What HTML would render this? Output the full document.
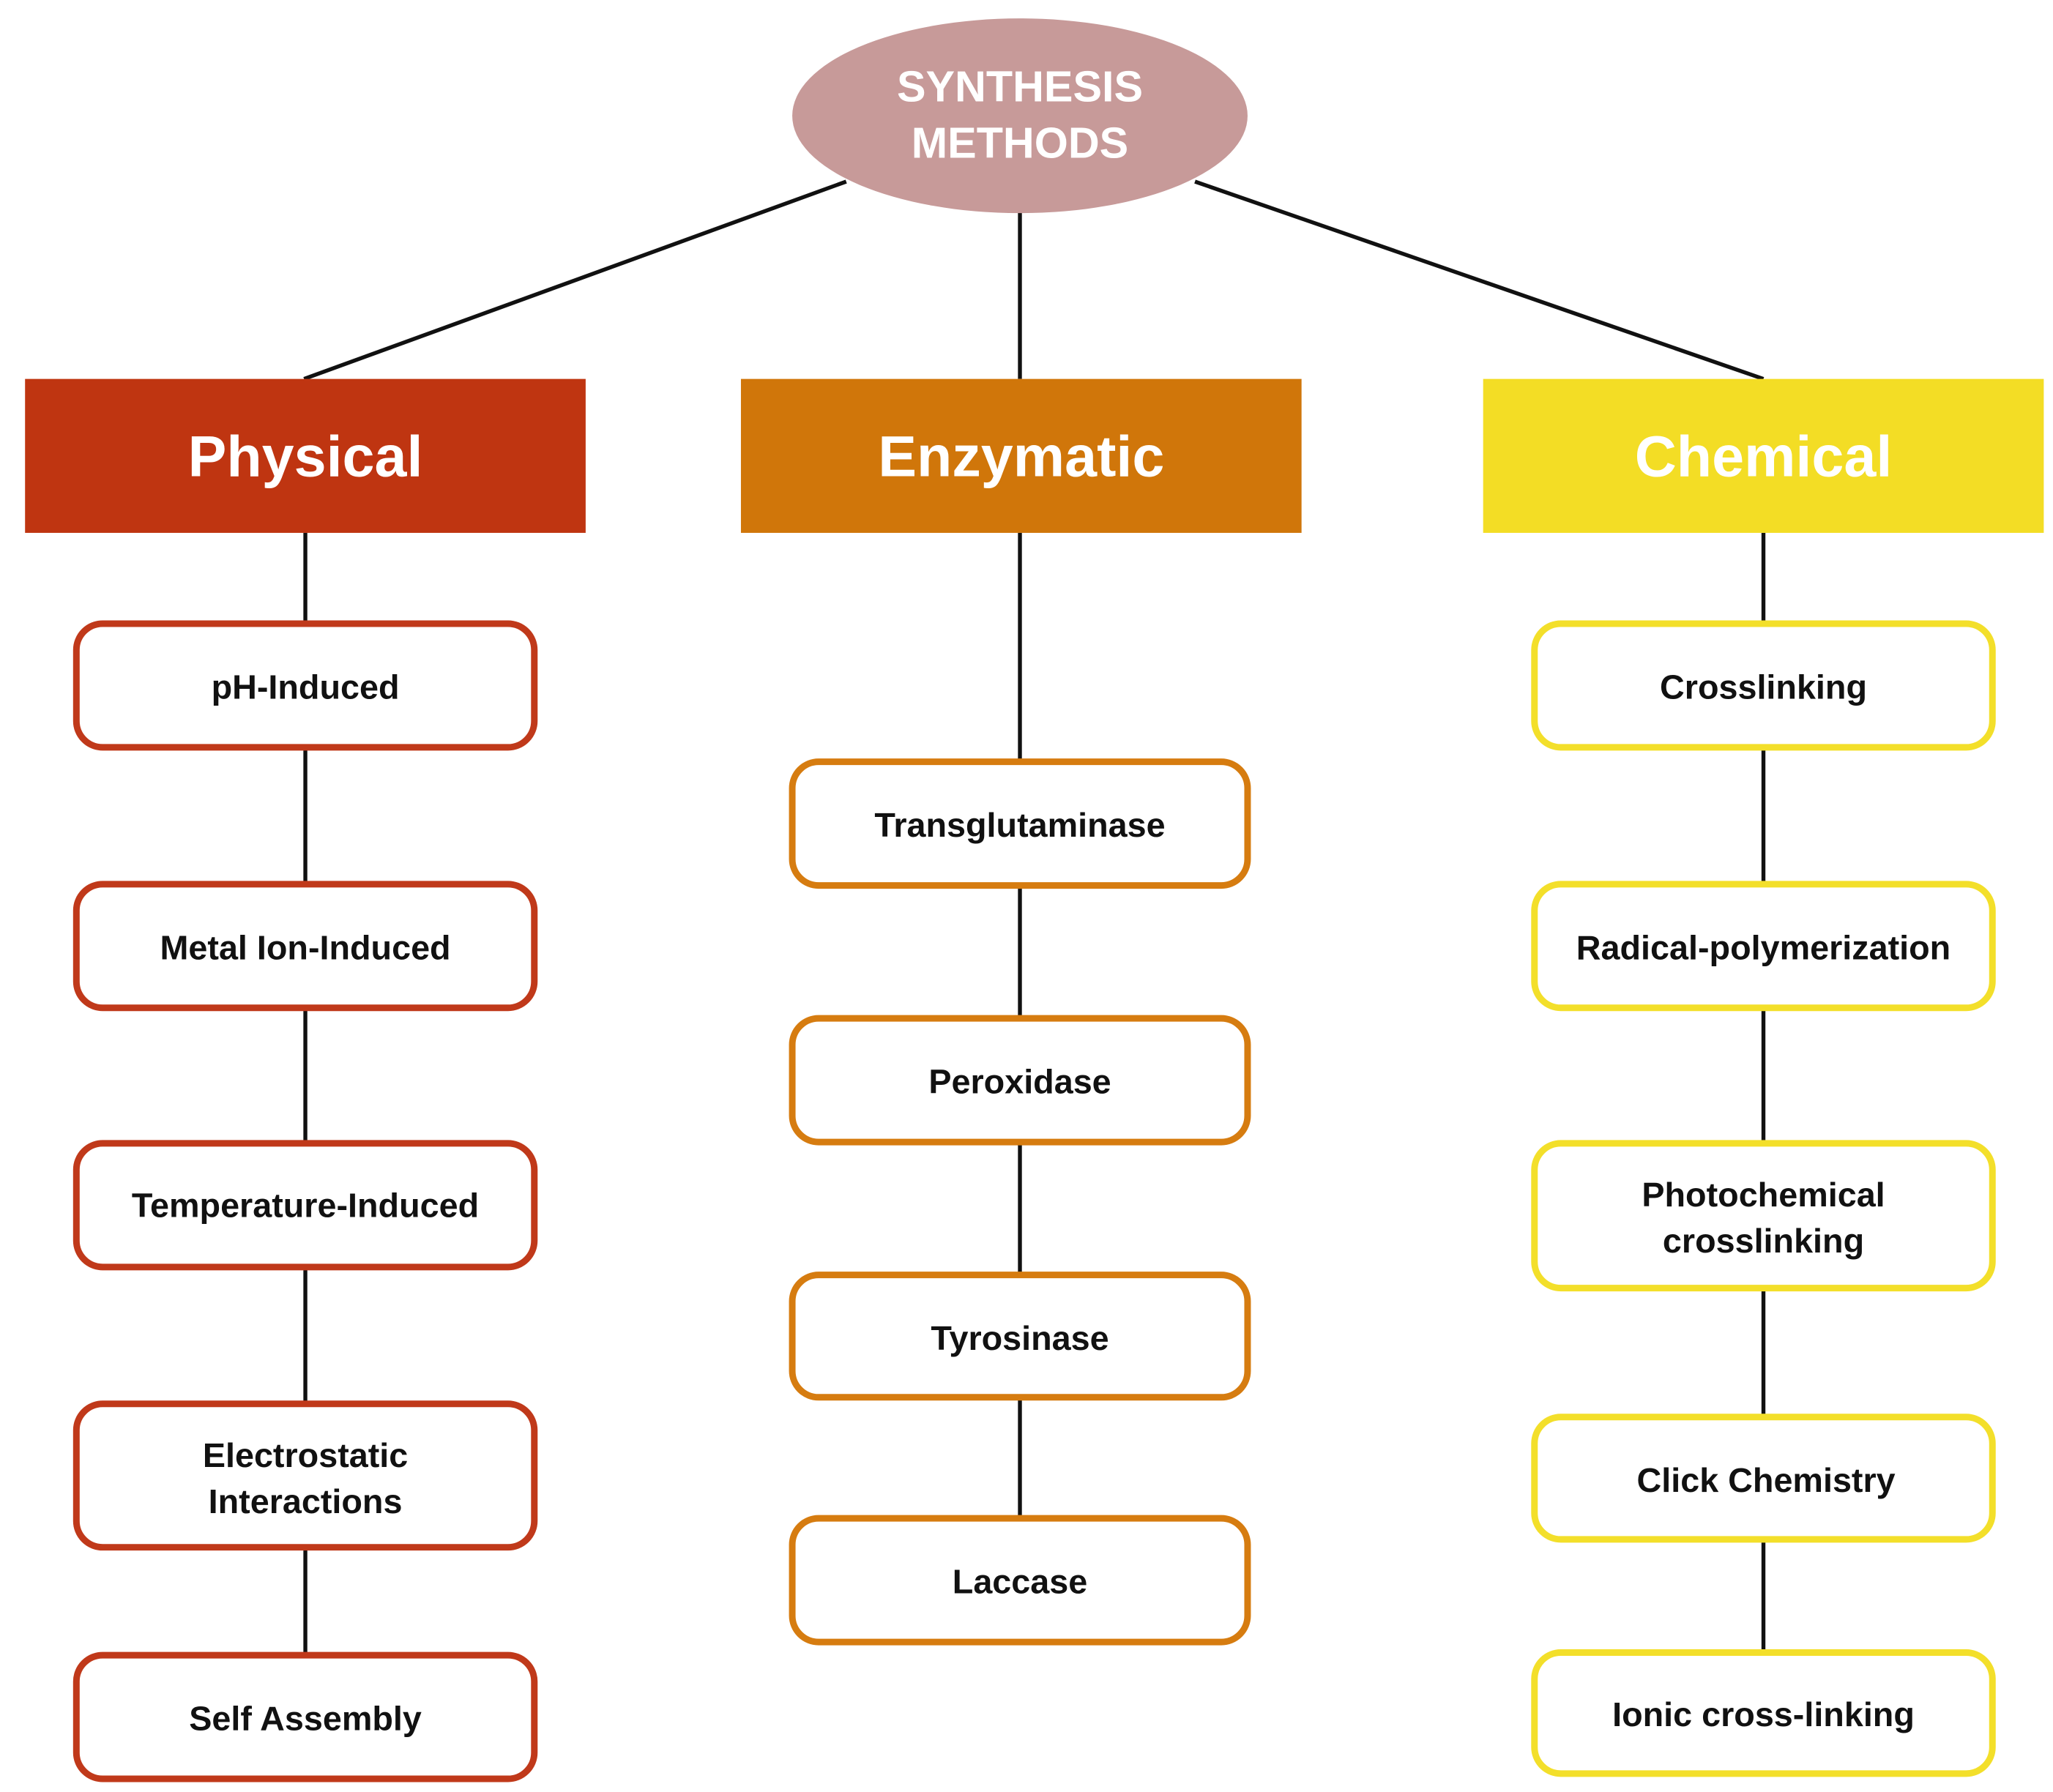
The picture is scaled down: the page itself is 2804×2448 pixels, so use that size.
<!DOCTYPE html>
<html><head><meta charset="utf-8"><style>
html,body{margin:0;padding:0;background:#fff;}
svg{display:block;}
text{font-family:"Liberation Sans",sans-serif;font-weight:bold;text-anchor:middle;}
</style></head><body>
<svg width="2804" height="2448" viewBox="0 0 1560 1362" xmlns="http://www.w3.org/2000/svg">
<rect width="1560" height="1362" fill="#fff"/>
<g stroke="#111" stroke-width="3" fill="none">
<line x1="643" y1="138" x2="231" y2="288"/>
<line x1="775" y1="160" x2="775" y2="288"/>
<line x1="908" y1="138" x2="1340" y2="288"/>
<line x1="232" y1="405" x2="232" y2="1258"/>
<line x1="775" y1="405" x2="775" y2="1154"/>
<line x1="1340" y1="405" x2="1340" y2="1256"/>
</g>
<ellipse cx="775" cy="88" rx="173" ry="74" fill="#c79a99"/>
<text x="775" y="77" font-size="33" fill="#fff" font-weight="normal">SYNTHESIS</text>
<text x="775" y="120" font-size="33" fill="#fff" font-weight="normal">METHODS</text>

<rect x="19" y="288" width="426" height="117" fill="#bf3511"/>
<rect x="563" y="288" width="426" height="117" fill="#d0760a"/>
<rect x="1127" y="288" width="426" height="117" fill="#f3dd25"/>
<text x="232" y="362" font-size="44" fill="#fff">Physical</text>
<text x="776" y="362" font-size="44" fill="#fff">Enzymatic</text>
<text x="1340" y="362" font-size="44" fill="#fff">Chemical</text>

<g fill="#fff" stroke-width="5">
<g stroke="#c0391a">
<rect x="58" y="474" width="348" height="94" rx="20"/>
<rect x="58" y="672" width="348" height="94" rx="20"/>
<rect x="58" y="869" width="348" height="94" rx="20"/>
<rect x="58" y="1067" width="348" height="109" rx="20"/>
<rect x="58" y="1258" width="348" height="94" rx="20"/>
</g>
<g stroke="#d67c10">
<rect x="602" y="579" width="346" height="94" rx="20"/>
<rect x="602" y="774" width="346" height="94" rx="20"/>
<rect x="602" y="969" width="346" height="93" rx="20"/>
<rect x="602" y="1154" width="346" height="94" rx="20"/>
</g>
<g stroke="#f3df2a">
<rect x="1166" y="474" width="348" height="94" rx="20"/>
<rect x="1166" y="672" width="348" height="94" rx="20"/>
<rect x="1166" y="869" width="348" height="110" rx="20"/>
<rect x="1166" y="1077" width="348" height="93" rx="20"/>
<rect x="1166" y="1256" width="348" height="92" rx="20"/>
</g>
</g>

<g font-size="26" fill="#111">
<text x="232" y="531">pH-Induced</text>
<text x="232" y="729">Metal Ion-Induced</text>
<text x="232" y="925">Temperature-Induced</text>
<text x="232" y="1115">Electrostatic</text>
<text x="232" y="1150">Interactions</text>
<text x="232" y="1315">Self Assembly</text>

<text x="775" y="636">Transglutaminase</text>
<text x="775" y="831">Peroxidase</text>
<text x="775" y="1026">Tyrosinase</text>
<text x="775" y="1211">Laccase</text>

<text x="1340" y="531">Crosslinking</text>
<text x="1340" y="729">Radical-polymerization</text>
<text x="1340" y="917">Photochemical</text>
<text x="1340" y="952">crosslinking</text>
<text x="1342" y="1134">Click Chemistry</text>
<text x="1340" y="1312">Ionic cross-linking</text>
</g>
</svg>
</body></html>
